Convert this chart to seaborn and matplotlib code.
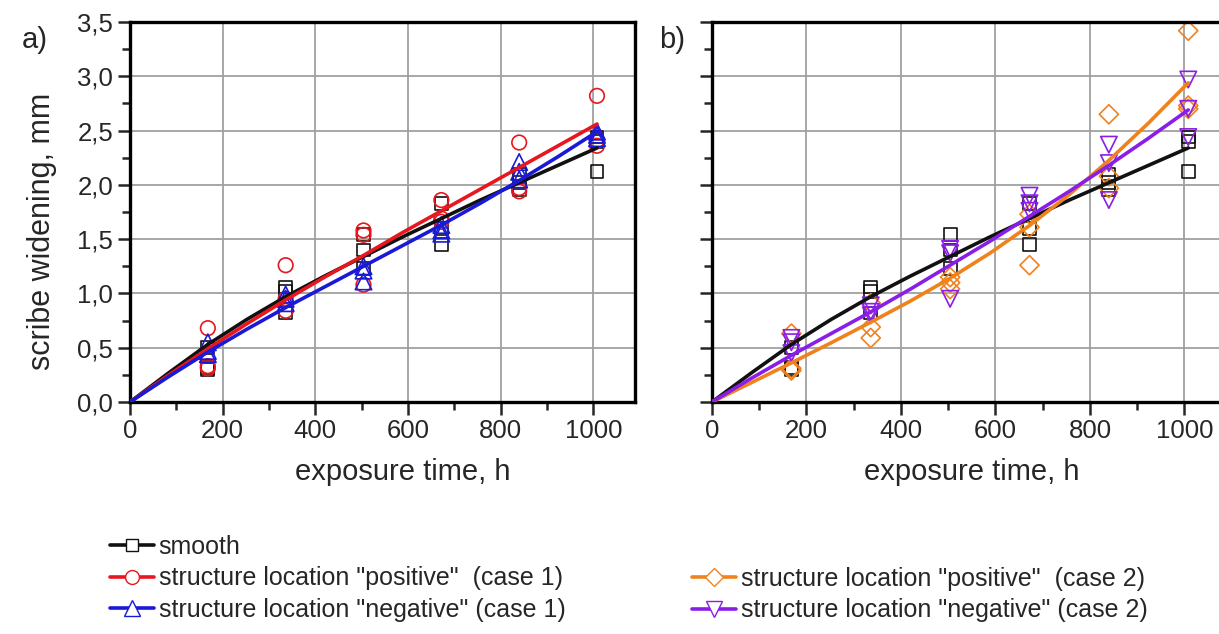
import numpy as np
import pandas as pd
import matplotlib
matplotlib.use("Agg")
import matplotlib.pyplot as plt
from matplotlib.lines import Line2D
from matplotlib.ticker import MultipleLocator, FuncFormatter
import seaborn as sns

# exposure times of the measurements (h), three specimens each
times = [168, 336, 504, 672, 840, 1008]

smooth_pts = [[0.50, 0.32, 0.30], [1.06, 1.02, 0.82], [1.54, 1.40, 1.23],
              [1.83, 1.60, 1.45], [2.10, 2.02, 1.96], [2.44, 2.40, 2.12]]
pos1_pts = [[0.68, 0.33, 0.31], [1.26, 0.95, 0.84], [1.58, 1.54, 1.08],
            [1.86, 1.69, 1.66], [2.39, 1.97, 1.94], [2.82, 2.41, 2.36]]
neg1_pts = [[0.55, 0.47, 0.44], [0.99, 0.95, 0.91], [1.25, 1.21, 1.11],
            [1.63, 1.58, 1.55], [2.21, 2.12, 2.05], [2.49, 2.46, 2.43]]
pos2_pts = [[0.63, 0.31, 0.29], [0.91, 0.69, 0.59], [1.15, 1.10, 1.04],
            [1.73, 1.61, 1.26], [2.65, 2.08, 1.97], [3.42, 2.73, 2.70]]
neg2_pts = [[0.59, 0.55, 0.45], [0.89, 0.83, 0.80], [1.41, 1.37, 0.95],
            [1.90, 1.83, 1.76], [2.37, 2.20, 1.86], [2.97, 2.70, 2.44]]

# fitted curves
fit_x = [0, 84, 168, 252, 336, 420, 504, 588, 672, 756, 840, 924, 1008]
smooth_fit = [0, 0.27, 0.53, 0.76, 0.97, 1.16, 1.34, 1.52, 1.69, 1.86, 2.02, 2.18, 2.34]
pos1_fit = [0, 0.25, 0.49, 0.72, 0.94, 1.15, 1.35, 1.56, 1.76, 1.96, 2.16, 2.36, 2.56]
neg1_fit = [0, 0.235, 0.46, 0.67, 0.87, 1.06, 1.25, 1.44, 1.63, 1.83, 2.04, 2.26, 2.49]
pos2_fit = [0, 0.18, 0.36, 0.545, 0.735, 0.93, 1.14, 1.37, 1.625, 1.91, 2.225, 2.57, 2.94]
neg2_fit = [0, 0.22, 0.43, 0.63, 0.83, 1.04, 1.26, 1.48, 1.71, 1.94, 2.18, 2.43, 2.69]

labels = ['smooth',
          'structure location "positive"  (case 1)',
          'structure location "negative" (case 1)',
          'structure location "positive"  (case 2)',
          'structure location "negative" (case 2)']

C_BLACK = "#111111"
C_RED = "#e8161e"
C_BLUE = "#1a1ad6"
C_ORANGE = "#f0821e"
C_PURPLE = "#8a1ee6"

sns.set_style("white")
plt.rcParams["font.family"] = ["Liberation Sans", "DejaVu Sans"]


def long_form(pts):
    rows = [(t, v) for t, vals in zip(times, pts) for v in vals]
    return pd.DataFrame(rows, columns=["time", "width"])


def draw_points(ax, pts, color, marker, size):
    sns.scatterplot(data=long_form(pts), x="time", y="width", ax=ax,
                    marker=marker, s=size, facecolors="none", edgecolor=color,
                    linewidth=1.2, zorder=2.5, legend=False)


def draw_fit(ax, yv, color):
    sns.lineplot(x=fit_x, y=yv, ax=ax, color=color, lw=2.6, zorder=3,
                 sort=False, estimator=None)


fig = plt.figure(figsize=(12.19, 6.34), dpi=100)
W, H = 1219, 634
ax_a = fig.add_axes([130 / W, (H - 402) / H, 505 / W, 380 / H])
ax_b = fig.add_axes([712 / W, (H - 402) / H, 515 / W, 380 / H])

draw_points(ax_a, smooth_pts, C_BLACK, "s", 85)
draw_points(ax_a, pos1_pts, C_RED, "o", 110)
draw_points(ax_a, neg1_pts, C_BLUE, "^", 140)
draw_fit(ax_a, smooth_fit, C_BLACK)
draw_fit(ax_a, pos1_fit, C_RED)
draw_fit(ax_a, neg1_fit, C_BLUE)

draw_points(ax_b, smooth_pts, C_BLACK, "s", 85)
draw_points(ax_b, pos2_pts, C_ORANGE, "D", 95)
draw_points(ax_b, neg2_pts, C_PURPLE, "v", 140)
draw_fit(ax_b, smooth_fit, C_BLACK)
draw_fit(ax_b, pos2_fit, C_ORANGE)
draw_fit(ax_b, neg2_fit, C_PURPLE)

comma = FuncFormatter(lambda v, p: f"{v:.1f}".replace(".", ","))
for ax in (ax_a, ax_b):
    ax.set_xlim(0, 1090)
    ax.set_ylim(0, 3.5)
    ax.xaxis.set_major_locator(MultipleLocator(200))
    ax.xaxis.set_minor_locator(MultipleLocator(100))
    ax.yaxis.set_major_locator(MultipleLocator(0.5))
    ax.yaxis.set_minor_locator(MultipleLocator(0.25))
    ax.yaxis.set_major_formatter(comma)
    ax.grid(True, which="major", color="#a0a0a0", lw=1.3)
    ax.set_axisbelow(True)
    for sp in ax.spines.values():
        sp.set_linewidth(2.4)
        sp.set_color("black")
    ax.tick_params(which="major", direction="out", length=9, width=1.8,
                   labelsize=18.5, pad=3, bottom=True, left=True)
    ax.tick_params(which="minor", direction="out", length=5.5, width=1.8,
                   bottom=True, left=True)
    ax.set_xlabel("exposure time, h", fontsize=21, labelpad=10)
    ax.set_ylabel("")

ax_b.tick_params(axis="y", which="both", labelleft=False)
ax_b.spines["right"].set_visible(False)
ax_a.xaxis.set_label_coords(0.54, -0.185, transform=ax_a.transAxes)
ax_a.xaxis.label.set_va("center")
ax_b.xaxis.set_label_coords(0.505, -0.185, transform=ax_b.transAxes)
ax_b.xaxis.label.set_va("center")
ax_a.set_ylabel("scribe widening, mm", fontsize=22)
ax_a.yaxis.set_label_coords(-0.145, 0.45, transform=ax_a.transAxes)

fig.text(35 / W, 1 - 40 / H, "a)", fontsize=21, ha="center", va="center")
fig.text(672 / W, 1 - 40 / H, "b)", fontsize=21, ha="center", va="center")


def handle(color, marker, ms):
    return Line2D([], [], color=color, lw=2.6, marker=marker, ms=ms,
                  mfc="white", mec=color, mew=1.0)


h_smooth = handle(C_BLACK, "s", 9)
h_pos1 = handle(C_RED, "o", 10)
h_neg1 = handle(C_BLUE, "^", 11)
h_pos2 = handle(C_ORANGE, "D", 9)
h_neg2 = handle(C_PURPLE, "v", 11)

leg_kw = dict(frameon=False, fontsize=18, handlelength=1.75, handletextpad=0.2,
              labelspacing=0.3, borderpad=0, borderaxespad=0, loc="upper left")
fig.legend([h_smooth, h_pos1, h_neg1], labels[:3],
           bbox_to_anchor=(110 / W, 1 - 535 / H), **leg_kw)
fig.legend([h_pos2, h_neg2], labels[3:],
           bbox_to_anchor=(692 / W, 1 - 567 / H), **leg_kw)

fig.savefig("out.png", dpi=100)
